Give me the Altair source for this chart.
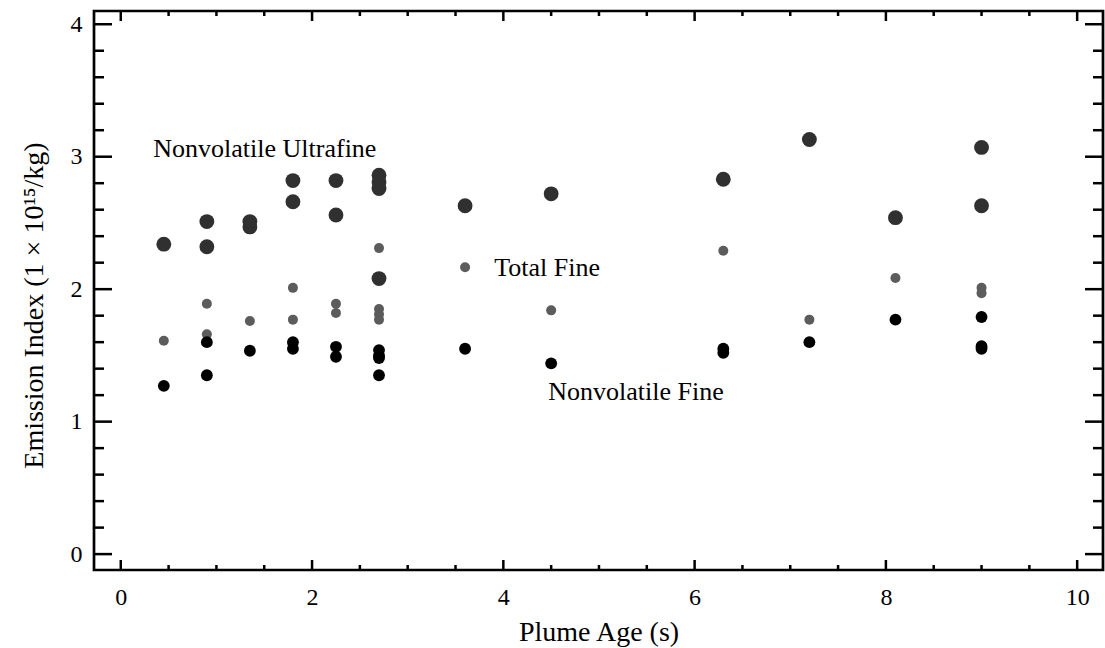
import altair as alt
import pandas as pd

# ---- data ----
uf_x = [0.45, 0.9, 0.9, 1.35, 1.35, 1.8, 1.8, 2.25, 2.25, 2.7, 2.7, 2.7, 2.7, 3.6, 4.5, 6.3, 7.2, 8.1, 9.0, 9.0]
uf_y = [2.34, 2.51, 2.32, 2.47, 2.51, 2.82, 2.66, 2.82, 2.56, 2.86, 2.81, 2.76, 2.08, 2.63, 2.72, 2.83, 3.13, 2.54, 3.07, 2.63]

tf_x = [0.45, 0.9, 0.9, 1.35, 1.8, 1.8, 2.25, 2.25, 2.7, 2.7, 2.7, 2.7, 3.6, 4.5, 6.3, 7.2, 8.1, 9.0, 9.0]
tf_y = [1.61, 1.89, 1.66, 1.76, 2.01, 1.77, 1.89, 1.82, 2.31, 1.85, 1.81, 1.77, 2.165, 1.84, 2.29, 1.77, 2.085, 2.01, 1.97]

nf_x = [0.45, 0.9, 0.9, 1.35, 1.8, 1.8, 2.25, 2.25, 2.7, 2.7, 2.7, 2.7, 3.6, 4.5, 6.3, 6.3, 7.2, 8.1, 9.0, 9.0, 9.0]
nf_y = [1.27, 1.60, 1.35, 1.535, 1.60, 1.55, 1.565, 1.49, 1.54, 1.50, 1.48, 1.35, 1.55, 1.44, 1.55, 1.52, 1.60, 1.77, 1.79, 1.57, 1.55]

label_text = ["Nonvolatile Ultrafine", "Total Fine", "Nonvolatile Fine"]
label_x = [0.34, 3.905, 4.47]
label_y = [3.0, 2.10, 1.165]

x_major = [0, 2, 4, 6, 8, 10]
x_minor = [0.5, 1, 1.5, 2.5, 3, 3.5, 4.5, 5, 5.5, 6.5, 7, 7.5, 8.5, 9, 9.5]
y_major = [0, 1, 2, 3, 4]
y_minor = [0.2, 0.4, 0.6, 0.8, 1.2, 1.4, 1.6, 1.8, 2.2, 2.4, 2.6, 2.8, 3.2, 3.4, 3.6, 3.8]

W, H = 1009, 559
FONT = "Liberation Serif"

xs = alt.Scale(domain=[-0.28, 10.27], nice=False, zero=False)
ys = alt.Scale(domain=[-0.12, 4.1], nice=False, zero=False)

uf = pd.DataFrame({"age": uf_x, "ei": uf_y})
tf = pd.DataFrame({"age": tf_x, "ei": tf_y})
nf = pd.DataFrame({"age": nf_x, "ei": nf_y})
labels = pd.DataFrame({"t": label_text, "age": label_x, "ei": label_y})

x_axis = alt.Axis(values=x_major, ticks=False, domain=False, grid=False,
                  labelFont=FONT, labelFontSize=24, labelPadding=15, labelColor="black",
                  title="Plume Age (s)", titleFont=FONT, titleFontSize=28,
                  titleFontWeight="normal", titleColor="black",
                  titleBaseline="alphabetic", titleY=70)
y_axis = alt.Axis(values=y_major, ticks=False, domain=False, grid=False,
                  labelFont=FONT, labelFontSize=24, labelPadding=12, labelColor="black",
                  title="Emission Index (1 × 10¹⁵/kg)", titleFont=FONT, titleFontSize=28,
                  titleFontWeight="normal", titleColor="black",
                  titleAngle=270, titleAlign="center", titleBaseline="middle",
                  titleX=-60, titleY=294)

X = lambda f: alt.X(f, scale=xs, axis=x_axis)
Y = lambda f: alt.Y(f, scale=ys, axis=y_axis)

pts_uf = alt.Chart(uf).mark_point(filled=True, shape="circle", size=220, color="#303030", opacity=1).encode(
    x=X("age:Q"), y=Y("ei:Q"))
pts_tf = alt.Chart(tf).mark_point(filled=True, shape="circle", size=100, color="#5c5c5c", opacity=1).encode(
    x=X("age:Q"), y=Y("ei:Q"))
pts_nf = alt.Chart(nf).mark_point(filled=True, shape="circle", size=140, color="#000000", opacity=1).encode(
    x=X("age:Q"), y=Y("ei:Q"))

txt = alt.Chart(labels).mark_text(align="left", baseline="alphabetic", font=FONT,
                                  fontSize=26, color="black").encode(
    x=X("age:Q"), y=Y("ei:Q"), text="t:N")

def xticks(vals, length):
    d = pd.DataFrame({"v": vals})
    bot = alt.Chart(d).mark_rule(color="black", strokeWidth=2.5).encode(
        x=X("v:Q"), y=alt.value(H), y2=alt.value(H - length))
    top = alt.Chart(d).mark_rule(color="black", strokeWidth=2.5).encode(
        x=X("v:Q"), y=alt.value(0), y2=alt.value(length))
    return [bot, top]

def yticks(vals, length):
    d = pd.DataFrame({"v": vals})
    left = alt.Chart(d).mark_rule(color="black", strokeWidth=2.5).encode(
        y=Y("v:Q"), x=alt.value(0), x2=alt.value(length))
    right = alt.Chart(d).mark_rule(color="black", strokeWidth=2.5).encode(
        y=Y("v:Q"), x=alt.value(W), x2=alt.value(W - length))
    return [left, right]

tick_layers = xticks(x_major, 10) + xticks(x_minor, 5) + yticks(y_major, 18) + yticks(y_minor, 10)

chart = alt.layer(pts_uf, pts_tf, pts_nf, txt, *tick_layers).properties(
    width=W, height=H,
    autosize=alt.AutoSizeParams(type="none"),
    padding={"left": 94, "top": 11, "right": 2, "bottom": 78},
    background="white",
).configure_view(stroke="black", strokeWidth=2.7)

chart.save("out.html", embed_options={"renderer": "svg", "actions": False})
